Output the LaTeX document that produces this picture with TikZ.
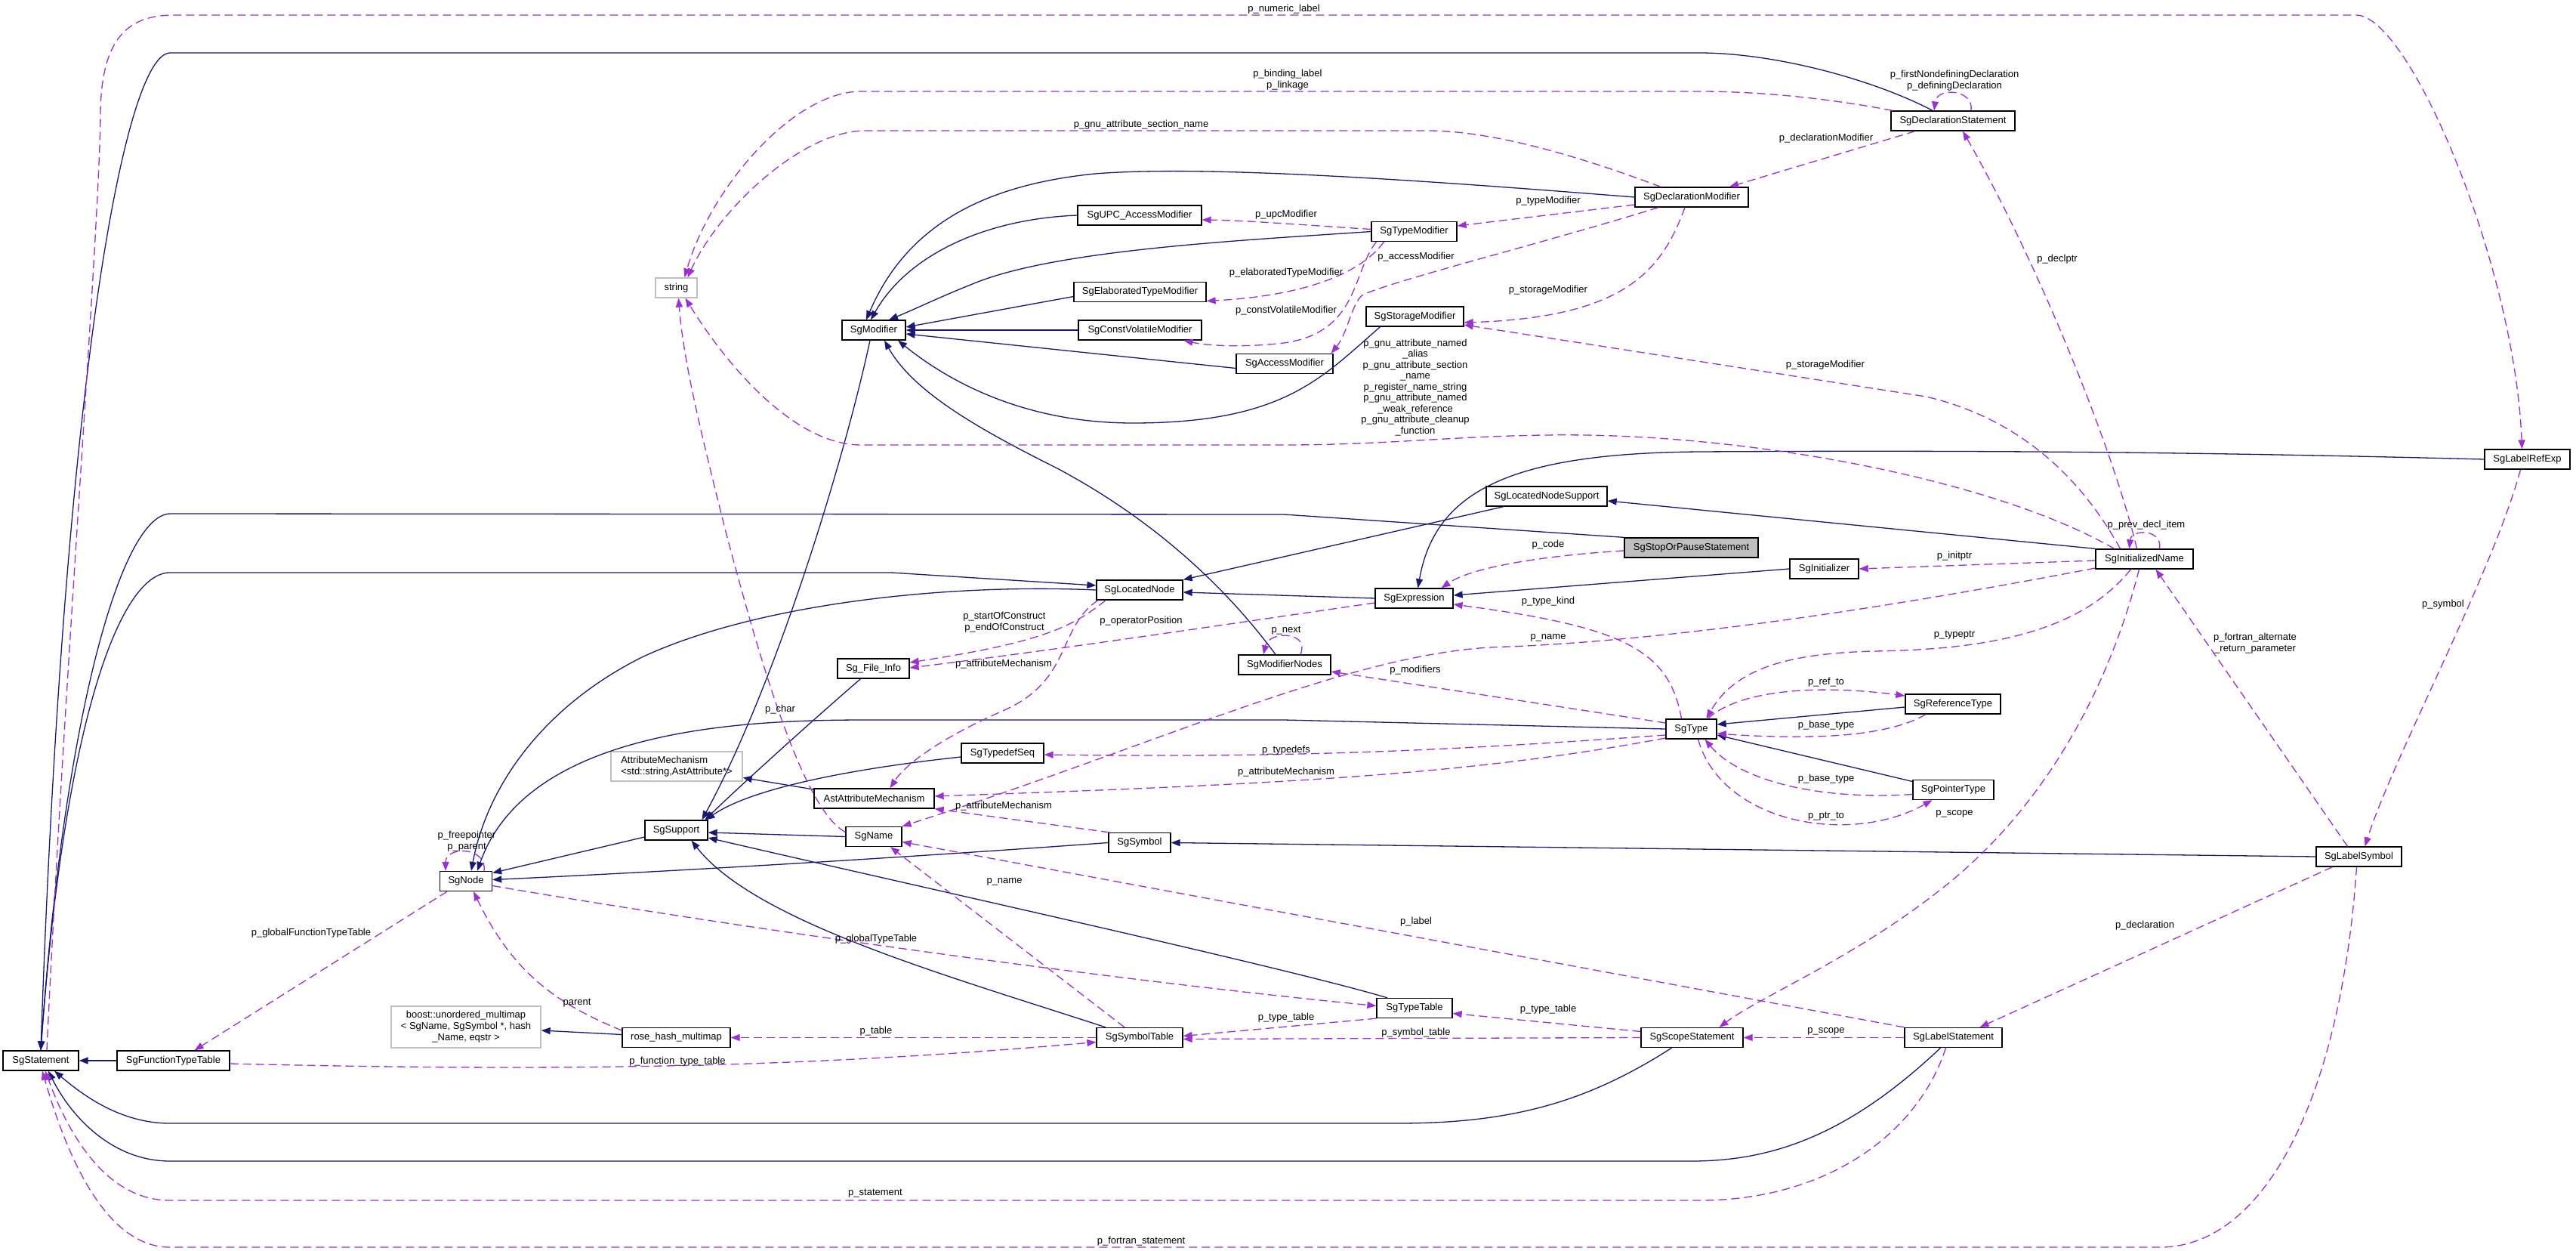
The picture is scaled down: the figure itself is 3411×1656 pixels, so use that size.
\documentclass[tikz,border=0pt]{standalone}
\usepackage{fontspec}
\setmainfont{Liberation Sans}
\usetikzlibrary{arrows.meta}
\definecolor{navyc}{HTML}{191970}
\definecolor{purc}{HTML}{9A32CD}
\definecolor{lgray}{HTML}{BFBFBF}
\newcommand\dfont{\fontsize{13pt}{15pt}\selectfont}
\newcommand\mfont{\fontsize{13pt}{14.5pt}\selectfont}
\begin{document}
\begin{tikzpicture}[x=1pt,y=-1pt,
  cls/.style={draw=black,line width=1.3pt,fill=white,inner sep=0pt,minimum height=26pt,font=\dfont},
  ext/.style={draw=lgray,line width=1.3pt,fill=white,inner sep=0pt,font=\dfont},
  inh/.style={draw=navyc,line width=1.3pt,-{Triangle[length=12pt,width=9pt,fill=navyc]}},
  use/.style={draw=purc,line width=1.3pt,dash pattern=on 11pt off 6pt,-{Triangle[length=12pt,width=9pt,fill=purc]}},
  lbl/.style={font=\dfont,inner sep=0pt,align=center}]
\fill[white] (0,0) rectangle (3411,1656);
\useasboundingbox (0,0) rectangle (3411,1656);

% ---------- nodes ----------
\node[cls,minimum width=100pt] (stm) at (54,1404) {SgStatement};
\node[cls,minimum width=149pt] (ftt) at (229.5,1404) {SgFunctionTypeTable};
\node[cls,minimum width=69pt] (sgnode) at (617,1166.5) {SgNode};
\node[ext,minimum width=198pt,minimum height=55pt,align=center] (boost) at (617,1359.5) {boost::unordered\_multimap\\< SgName, SgSymbol *, hash\\\_Name, eqstr >};
\node[cls,minimum width=143pt] (rhm) at (895.5,1373.5) {rose\_hash\_multimap};
\node[cls,minimum width=83pt] (sup) at (895.5,1099) {SgSupport};
\node[ext,minimum width=174pt,minimum height=39pt,align=left] (am) at (896,1014.5) {AttributeMechanism\\<std::string,AstAttribute*>};
\node[cls,minimum width=159pt] (aam) at (1157.5,1057) {AstAttributeMechanism};
\node[cls,minimum width=74pt] (sgname) at (1157,1107.5) {SgName};
\node[cls,minimum width=95pt] (sfi) at (1156.5,885) {Sg\_File\_Info};
\node[cls,minimum width=109pt] (tds) at (1327.5,997) {SgTypedefSeq};
\node[cls,minimum width=114pt] (ln) at (1509,781) {SgLocatedNode};
\node[cls,minimum width=82pt] (sym) at (1509,1115.5) {SgSymbol};
\node[cls,minimum width=114pt] (symt) at (1509,1373.5) {SgSymbolTable};
\node[ext,minimum width=55pt,minimum height=26pt] (str) at (895.5,381) {string};
\node[cls,minimum width=84pt] (mod) at (1157,437) {SgModifier};
\node[cls,minimum width=164pt] (upc) at (1509,285) {SgUPC\_AccessModifier};
\node[cls,minimum width=175pt] (etm) at (1509.5,386.5) {SgElaboratedTypeModifier};
\node[cls,minimum width=163pt] (cvm) at (1509.5,437) {SgConstVolatileModifier};
\node[cls,minimum width=128pt] (acm) at (1701,481.5) {SgAccessModifier};
\node[cls,minimum width=122pt] (mn) at (1701,880) {SgModifierNodes};
\node[cls,minimum width=113pt] (tm) at (1872.5,306.5) {SgTypeModifier};
\node[cls,minimum width=129pt] (sm) at (1873.5,419) {SgStorageModifier};
\node[cls,minimum width=103pt] (expr) at (1872.5,792) {SgExpression};
\node[cls,minimum width=100pt] (tt) at (1873,1334.5) {SgTypeTable};
\node[cls,minimum width=160pt] (lns) at (2048,657) {SgLocatedNodeSupport};
\node[cls,minimum width=150pt] (dm) at (2240,261) {SgDeclarationModifier};
\node[cls,minimum width=177pt,fill=lgray] (sops) at (2239.5,725) {SgStopOrPauseStatement};
\node[cls,minimum width=67pt] (sgtype) at (2239.5,965) {SgType};
\node[cls,minimum width=135pt] (ss) at (2240.5,1373.5) {SgScopeStatement};
\node[cls,minimum width=91pt] (init) at (2415.5,753) {SgInitializer};
\node[cls,minimum width=126pt] (rt) at (2586,932) {SgReferenceType};
\node[cls,minimum width=107pt] (pt) at (2586.5,1045.5) {SgPointerType};
\node[cls,minimum width=129pt] (ls) at (2586.5,1373.5) {SgLabelStatement};
\node[cls,minimum width=164pt] (ds) at (2586,160) {SgDeclarationStatement};
\node[cls,minimum width=129pt] (inm) at (2839.5,740) {SgInitializedName};
\node[cls,minimum width=113pt] (lsym) at (3123.5,1134) {SgLabelSymbol};
\node[cls,minimum width=113pt] (lre) at (3346.5,608) {SgLabelRefExp};

% ---------- inheritance ----------
\draw[inh] ([xshift=-27pt]ds.north) .. controls (2480,105) and (2350,70) .. (2250,70) -- (225,70) .. controls (165,72) and (85,500) .. (stm.north);
\draw[inh] (sops.north west) -- (1700,681) -- (225,680) .. controls (160,682) and (85,950) .. (stm.north);
\draw[inh] (stm.north) .. controls (85,950) and (160,758) .. (225,758) -- (1180,758) -- ([yshift=6pt]ln.west);
\draw[inh] (ln.west) .. controls (1250,772) and (1000,800) .. (850,870) .. controls (720,935) and (645,1040) .. ([xshift=7pt]sgnode.north);
\draw[inh] (sgtype.west) -- (1700,953) -- (1150,953) .. controls (1000,953) and (700,960) .. ([xshift=15pt]sgnode.north);
\draw[inh] ([yshift=-9pt]sup.west) -- ([yshift=11pt]sgnode.east);
\draw[inh] (sym.west) .. controls (1200,1135) and (900,1153) .. ([yshift=2pt]sgnode.east);
\draw[inh] ([xshift=-5pt]mod.south) .. controls (1120,600) and (1030,900) .. ([xshift=34pt]sup.north);
\draw[inh] ([xshift=-17pt]sfi.south) .. controls (1080,950) and (980,1040) .. ([xshift=38pt]sup.north);
\draw[inh] ([yshift=-5pt]tds.west) .. controls (1150,1015) and (1000,1040) .. ([xshift=39pt]sup.north);
\draw[inh] ([yshift=12pt]aam.west) -- ([yshift=-15pt]am.east);
\draw[inh] (sgname.west) -- ([yshift=-3pt]sup.east);
\draw[inh] ([xshift=-45pt]symt.north) .. controls (1250,1290) and (1000,1220) .. ([xshift=20pt]sup.south);
\draw[inh] ([xshift=-36pt]tt.north) .. controls (1700,1280) and (1200,1170) .. ([yshift=-10pt]sup.east);
\draw[inh] (ftt.west) -- (stm.east);
\draw[inh] ([yshift=4pt]rhm.west) -- ([yshift=-4.5pt]boost.east);
\draw[inh] (expr.west) -- ([yshift=-3pt]ln.east);
\draw[inh] ([xshift=-57pt]lns.south) -- (ln.north east);
\draw[inh] (inm.north west) -- ([yshift=-6pt]lns.east);
\draw[inh] (lre.west) .. controls (2900,598) and (2600,596) .. (2250,598) .. controls (2000,600) and (1900,650) .. ([xshift=5pt]expr.north);
\draw[inh] (init.west) -- ([yshift=4pt]expr.east);
\draw[inh] ([yshift=-4pt]rt.west) -- ([yshift=6pt]sgtype.east);
\draw[inh] ([yshift=11pt]pt.west) -- ([yshift=-8pt]sgtype.east);
\draw[inh] (lsym.west) -- (sym.east);
\draw[inh] ([xshift=-27pt]ss.south) .. controls (2100,1460) and (2000,1487) .. (1850,1487) -- (225,1487) .. controls (160,1487) and (110,1450) .. ([xshift=18pt]stm.south);
\draw[inh] ([xshift=-17pt]ls.south) .. controls (2450,1500) and (2350,1537) .. (2240,1537) -- (225,1537) .. controls (150,1537) and (95,1480) .. ([xshift=10pt]stm.south);
\draw[inh] ([xshift=-12pt]mn.north) .. controls (1640,800) and (1550,700) .. (1400,620) .. controls (1300,570) and (1210,520) .. ([xshift=14pt]mod.south);

% modifiers to SgModifier
\draw[inh] (dm.west) .. controls (1900,240) and (1600,218) .. (1450,230) .. controls (1300,245) and (1200,300) .. ([xshift=-10pt]mod.north);
\draw[inh] (upc.west) .. controls (1300,290) and (1200,340) .. ([xshift=-4pt]mod.north);
\draw[inh] (tm.west) .. controls (1650,318) and (1400,330) .. (1290,375) .. controls (1240,395) and (1210,410) .. ([xshift=20pt]mod.north);
\draw[inh] ([yshift=-6pt]etm.west) -- ([yshift=4pt]mod.east);
\draw[inh] (cvm.west) -- (mod.east);
\draw[inh] ([yshift=-6pt]acm.west) -- ([yshift=-5pt]mod.east);
\draw[inh] ([xshift=-46pt]sm.south) .. controls (1750,500) and (1700,560) .. (1500,560) .. controls (1350,560) and (1250,500) .. ([xshift=32pt]mod.south);

% ---------- usage ----------
\draw[use] ([xshift=8pt]stm.north) .. controls (85,900) and (132,300) .. (133,150) .. controls (134,50) and (170,20) .. (230,20) -- (3120,20) .. controls (3190,20) and (3330,350) .. ([xshift=-7pt]lre.north);
\draw[use] ([xshift=-80pt]ds.north) .. controls (2420,130) and (2330,121) .. (2250,121) -- (1140,121) .. controls (1050,121) and (940,250) .. ([xshift=11pt]str.north);
\draw[use] ([xshift=-41pt]dm.north) .. controls (2100,210) and (1980,173) .. (1890,173) -- (1146,173) .. controls (1060,173) and (950,280) .. ([xshift=15pt]str.north);
\draw[use] ([xshift=24pt]ds.north) .. controls (2614,118) and (2565,115) .. ([xshift=-25pt]ds.north);
\draw[use] ([xshift=-50pt]ds.south) -- ([xshift=50pt]dm.north);
\draw[use] ([yshift=-10pt]dm.west) -- ([yshift=7.5pt]tm.east);
\draw[use] ([xshift=-44pt]dm.south) .. controls (2050,320) and (1850,370) .. (1805,390) .. controls (1790,400) and (1785,440) .. ([xshift=-3pt]acm.north east);
\draw[use] ([yshift=3pt]tm.west) .. controls (1700,296) and (1650,292) .. ([yshift=-6pt]upc.east);
\draw[use] ([xshift=-40pt]tm.south) .. controls (1800,365) and (1720,392) .. ([yshift=-12pt]etm.east);
\draw[use] ([xshift=-50pt]tm.south) .. controls (1790,360) and (1800,440) .. (1700,454) .. controls (1650,460) and (1600,458) .. ([xshift=58pt]cvm.south);
\draw[use] ([xshift=-9pt]dm.south) .. controls (2200,360) and (2150,420) .. ([yshift=-8pt]sm.east);
\draw[use] ([xshift=-32pt]inm.north) .. controls (2760,640) and (2680,555) .. (2550,525) -- ([yshift=-11pt]sm.east);
\draw[use] ([xshift=-10pt]inm.north) .. controls (2800,600) and (2700,350) .. ([xshift=13pt]ds.south);
\draw[use] ([xshift=-40pt]inm.north) .. controls (2650,640) and (2350,580) .. (2100,576) .. controls (1950,574) and (1850,589) .. (1700,589) -- (1140,589) .. controls (1050,589) and (960,480) .. ([xshift=12pt]str.south);
\draw[use] ([xshift=20pt]inm.north) .. controls (2864,700) and (2822,700) .. ([xshift=-20pt]inm.north);
\draw[use] ([yshift=-2pt]inm.west) -- (init.east);
\draw[use] ([yshift=-12pt]inm.west) .. controls (2550,795) and (2250,845) .. (2000,856) .. controls (1800,858) and (1550,980) .. (sgname.north east);
\draw[use] ([xshift=-18pt]inm.south) .. controls (2760,830) and (2650,860) .. (2480,862) .. controls (2380,865) and (2300,880) .. ([xshift=20pt]sgtype.north);
\draw[use] ([xshift=-7pt]inm.south) .. controls (2790,920) and (2700,1080) .. (2560,1185) .. controls (2450,1270) and (2330,1320) .. ([xshift=36pt]ss.north);
\draw[use] ([xshift=-15pt]lsym.north) -- ([xshift=15pt]inm.south);
\draw[use] ([xshift=-9pt]lre.south) .. controls (3300,760) and (3170,1000) .. ([xshift=8pt]lsym.north);
\draw[use] ([xshift=-35pt]lsym.south) -- ([xshift=35pt]ls.north);
\draw[use] (ls.west) -- (ss.east);
\draw[use] (ls.north west) -- ([yshift=-7pt]sgname.east);
\draw[use] ([yshift=8pt]ss.west) -- ([yshift=-7pt]tt.east);
\draw[use] (ss.west) -- ([yshift=-2pt]symt.east);
\draw[use] (tt.south west) -- ([yshift=2pt]symt.east);
\draw[use] ([yshift=-6pt]sgnode.east) .. controls (900,1215) and (1400,1290) .. ([yshift=3pt]tt.west);
\draw[use] ([xshift=-25pt]sgnode.south) -- ([xshift=28pt]ftt.north);
\draw[use] ([yshift=9.5pt]rhm.west) .. controls (740,1330) and (680,1290) .. ([xshift=10pt]sgnode.south);
\draw[use] (symt.west) -- (rhm.east);
\draw[use] ([yshift=-4pt]ftt.east) .. controls (800,1420) and (1100,1410) .. ([yshift=-6pt]symt.west);
\draw[use] ([xshift=-20pt]symt.north) -- ([xshift=22pt]sgname.south);
\draw[use] ([xshift=24pt]sgnode.north) .. controls (645,1120) and (590,1120) .. ([xshift=-27pt]sgnode.north);
\draw[use] ([xshift=-10pt]ls.south) .. controls (2540,1500) and (2420,1589) .. (2250,1589) -- (225,1589) .. controls (140,1589) and (90,1500) .. ([xshift=6pt]stm.south);
\draw[use] ([xshift=-3pt]lsym.south) .. controls (3100,1450) and (3000,1651) .. (2860,1651) -- (225,1651) .. controls (130,1651) and (80,1500) .. ([xshift=2pt]stm.south);
\draw[use] ([xshift=-45pt]ln.south) .. controls (1420,830) and (1380,850) .. ([yshift=8pt]sfi.east);
\draw[use] ([xshift=-55pt]ln.south) .. controls (1400,830) and (1420,900) .. (1330,940) .. controls (1250,975) and (1200,1010) .. ([xshift=21pt]aam.north);
\draw[use] ([yshift=-6pt]expr.west) .. controls (1600,830) and (1400,860) .. ([yshift=1pt]sfi.east);
\draw[use] ([yshift=6pt]sgname.west) .. controls (1060,1070) and (1000,850) .. (960,700) .. controls (930,580) and (905,480) .. ([xshift=3pt]str.south);
\draw[use] ([xshift=21pt]mn.north) .. controls (1735,835) and (1680,835) .. ([xshift=-28pt]mn.north);
\draw[use] ([yshift=8pt]sgtype.west) -- ([yshift=-9pt]mn.east);
\draw[use] ([xshift=-13pt]sgtype.north) .. controls (2210,860) and (2150,830) .. ([yshift=-8pt]expr.east);
\draw[use] ([yshift=-8pt]sgtype.west) .. controls (1900,995) and (1700,1003) .. ([yshift=-2pt]tds.east);
\draw[use] ([yshift=-12pt]sgtype.west) .. controls (1950,1025) and (1700,1038) .. ([yshift=3pt]aam.east);
\draw[use] ([xshift=-40pt]sym.north) -- (aam.south east);
\draw[use] ([yshift=-4pt]sops.west) .. controls (2050,735) and (1950,750) .. ([xshift=36pt]expr.north);
\draw[use] ([xshift=22pt]sgtype.north) .. controls (2300,915) and (2400,905) .. ([yshift=11pt]rt.west);
\draw[use] ([xshift=-36pt]rt.south) .. controls (2500,975) and (2400,980) .. ([yshift=-6pt]sgtype.east);
\draw[use] ([yshift=-6pt]pt.west) .. controls (2400,1060) and (2300,1030) .. ([xshift=18pt]sgtype.south);
\draw[use] ([xshift=9pt]sgtype.south) .. controls (2280,1090) and (2450,1120) .. ([xshift=-28pt]pt.south);

% ---------- labels ----------
\node[lbl] (l1) at (1700,12) {p\_numeric\_label};
\node[lbl] (l2) at (1705,105.5) {p\_binding\_label\\p\_linkage};
\node[lbl] (l3) at (1511,165) {p\_gnu\_attribute\_section\_name};
\node[lbl] (l4) at (2588,107) {p\_firstNondefiningDeclaration\\p\_definingDeclaration};
\node[lbl] (l5) at (2418,183) {p\_declarationModifier};
\node[lbl] (l6) at (1703,284) {p\_upcModifier};
\node[lbl] (l7) at (2050,266) {p\_typeModifier};
\node[lbl] (l8) at (1875,340) {p\_accessModifier};
\node[lbl] (l9) at (1703,361) {p\_elaboratedTypeModifier};
\node[lbl] (l10) at (2050,384) {p\_storageModifier};
\node[lbl] (l11) at (1703,411) {p\_constVolatileModifier};
\node[lbl] (l12) at (2417,483) {p\_storageModifier};
\node[lbl] (l13) at (2724,343) {p\_declptr};
\node[lbl,font=\mfont] (l14) at (1874,513) {p\_gnu\_attribute\_named\\\_alias\\p\_gnu\_attribute\_section\\\_name\\p\_register\_name\_string\\p\_gnu\_attribute\_named\\\_weak\_reference\\p\_gnu\_attribute\_cleanup\\\_function};
\node[lbl] (l15) at (2842,695) {p\_prev\_decl\_item};
\node[lbl] (l16) at (2050,721) {p\_code};
\node[lbl] (l17) at (2588,736) {p\_initptr};
\node[lbl] (l18) at (2050,796) {p\_type\_kind};
\node[lbl] (l19) at (1330,824) {p\_startOfConstruct\\p\_endOfConstruct};
\node[lbl] (l20) at (1511,822) {p\_operatorPosition};
\node[lbl] (l21) at (1703,835) {p\_next};
\node[lbl] (l22) at (2050,844) {p\_name};
\node[lbl] (l23) at (2588,841) {p\_typeptr};
\node[lbl] (l24) at (2986,851.5) {p\_fortran\_alternate\\\_return\_parameter};
\node[lbl] (l25) at (3235,800) {p\_symbol};
\node[lbl] (l26) at (1329,879) {p\_attributeMechanism};
\node[lbl] (l27) at (1874,887) {p\_modifiers};
\node[lbl] (l28) at (2418,903) {p\_ref\_to};
\node[lbl] (l29) at (1033,939) {p\_char};
\node[lbl] (l30) at (2418,960) {p\_base\_type};
\node[lbl] (l31) at (1703,993) {p\_typedefs};
\node[lbl] (l32) at (1703,1022) {p\_attributeMechanism};
\node[lbl] (l33) at (2418,1031) {p\_base\_type};
\node[lbl] (l34) at (1329,1067) {p\_attributeMechanism};
\node[lbl] (l35) at (2588,1077) {p\_scope};
\node[lbl] (l36) at (2418,1081) {p\_ptr\_to};
\node[lbl] (l37) at (618,1113.5) {p\_freepointer\\p\_parent};
\node[lbl] (l38) at (1330,1167) {p\_name};
\node[lbl] (l39) at (1875,1220) {p\_label};
\node[lbl] (l40) at (2840,1225) {p\_declaration};
\node[lbl] (l41) at (412,1235) {p\_globalFunctionTypeTable};
\node[lbl] (l42) at (1160,1243) {p\_globalTypeTable};
\node[lbl] (l43) at (764,1328) {parent};
\node[lbl] (l44) at (2050,1336) {p\_type\_table};
\node[lbl] (l45) at (1703,1347) {p\_type\_table};
\node[lbl] (l46) at (1160,1365) {p\_table};
\node[lbl] (l47) at (2418,1365) {p\_scope};
\node[lbl] (l48) at (1875,1367) {p\_symbol\_table};
\node[lbl] (l49) at (897,1405) {p\_function\_type\_table};
\node[lbl] (l50) at (1159,1580) {p\_statement};
\node[lbl] (l51) at (1511,1643) {p\_fortran\_statement};
\end{tikzpicture}
\end{document}
